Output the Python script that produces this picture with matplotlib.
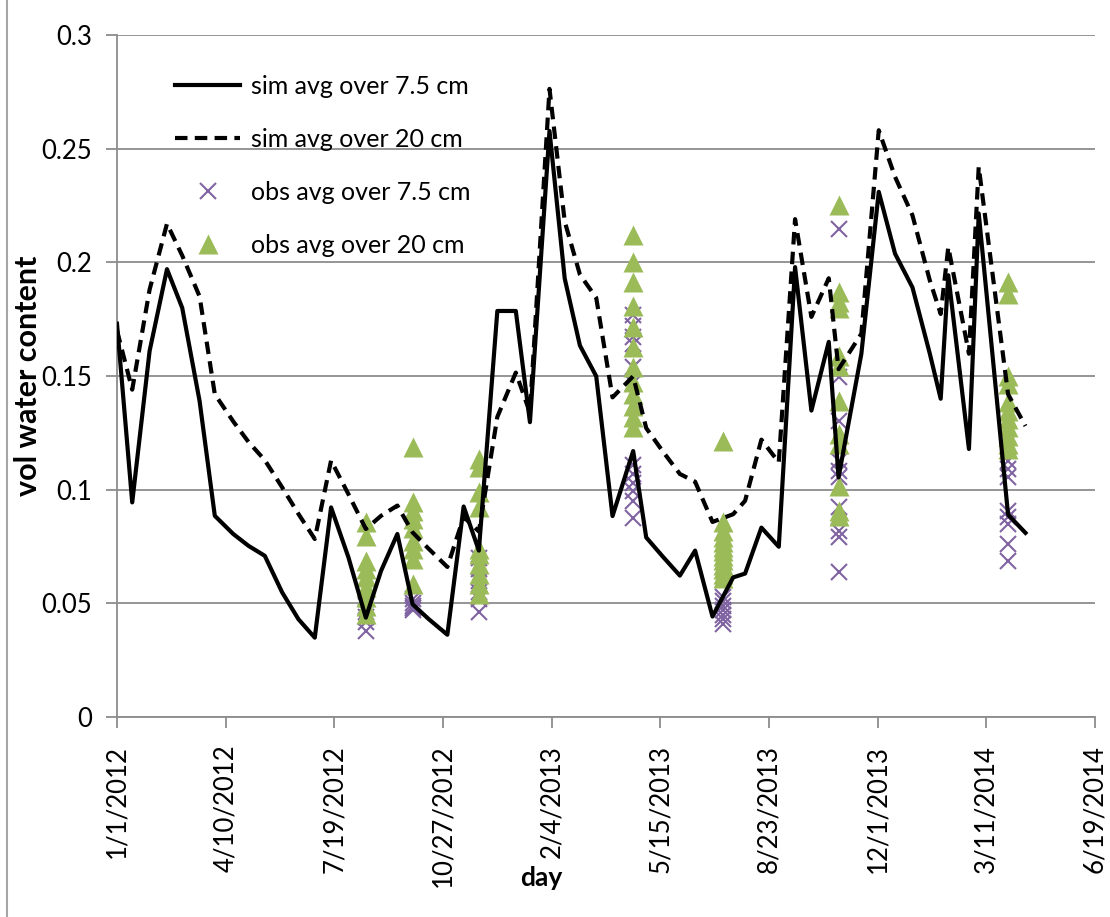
import numpy as np
import pandas as pd
import matplotlib
matplotlib.use("Agg")
import matplotlib.pyplot as plt
from matplotlib.lines import Line2D

plt.rcParams['font.family'] = ['Lato', 'DejaVu Sans']

# simulated water content
sim_dates = ['2012-01-01', '2012-01-15', '2012-01-31', '2012-02-16', '2012-03-01',
             '2012-03-17', '2012-03-31', '2012-04-17', '2012-05-01', '2012-05-16',
             '2012-06-01', '2012-06-16', '2012-07-01', '2012-07-16', '2012-08-01',
             '2012-08-17', '2012-08-31', '2012-09-15', '2012-09-29', '2012-10-14',
             '2012-10-31', '2012-11-15', '2012-11-29', '2012-12-16', '2013-01-02',
             '2013-01-15', '2013-02-02', '2013-02-16', '2013-03-02', '2013-03-17',
             '2013-04-01', '2013-04-20', '2013-05-02', '2013-05-17', '2013-06-02',
             '2013-06-16', '2013-07-02', '2013-07-21', '2013-08-01', '2013-08-16',
             '2013-09-01', '2013-09-16', '2013-10-01', '2013-10-17', '2013-10-26',
             '2013-11-16', '2013-12-02', '2013-12-17', '2014-01-02', '2014-01-18',
             '2014-01-28', '2014-02-04', '2014-02-23', '2014-03-04', '2014-03-31',
             '2014-04-16']
sim_75 = [0.173, 0.0944, 0.161, 0.197, 0.180,
          0.139, 0.0885, 0.0805, 0.0753, 0.0709,
          0.0548, 0.043, 0.0349, 0.0922, 0.0702,
          0.0437, 0.0643, 0.0805, 0.0496, 0.043,
          0.0362, 0.0926, 0.0732, 0.1786, 0.1786,
          0.1297, 0.2578, 0.1929, 0.1634, 0.1499,
          0.0884, 0.117, 0.079, 0.0707, 0.0622,
          0.0732, 0.0442, 0.0614, 0.0631, 0.0833,
          0.0749, 0.1979, 0.1348, 0.165, 0.1054,
          0.1598, 0.231, 0.2038, 0.189, 0.1598,
          0.140, 0.1943, 0.1179, 0.2215, 0.089,
          0.081]
sim_20 = [0.170, 0.144, 0.188, 0.217, 0.203,
          0.185, 0.142, 0.130, 0.121, 0.113,
          0.101, 0.0893, 0.0783, 0.1128, 0.098,
          0.0827, 0.0885, 0.093, 0.0812, 0.0739,
          0.066, 0.088, 0.0816, 0.132, 0.1515,
          0.1339, 0.2763, 0.218, 0.1946, 0.1844,
          0.1406, 0.1499, 0.1271, 0.117, 0.1069,
          0.1035, 0.0858, 0.0892, 0.0951, 0.122,
          0.112, 0.219, 0.176, 0.193, 0.153,
          0.1686, 0.2581, 0.2376, 0.2207, 0.192,
          0.1773, 0.2067, 0.1598, 0.242, 0.142,
          0.128]

# observed values, one list per sampling date
obs_dates = ['2012-08-17', '2012-09-29', '2012-11-29', '2013-04-20',
             '2013-07-12', '2013-10-26', '2014-03-31']
obs_75 = [[0.052, 0.049, 0.046, 0.044, 0.042, 0.038],
          [0.052, 0.050, 0.049, 0.048, 0.047],
          [0.070, 0.065, 0.060, 0.055, 0.052, 0.046],
          [0.177, 0.172, 0.167, 0.164, 0.154, 0.147, 0.111, 0.107, 0.103, 0.0995, 0.095, 0.0877],
          [0.053, 0.051, 0.049, 0.047, 0.045, 0.043, 0.041],
          [0.2148, 0.1495, 0.1304, 0.1128, 0.1084, 0.1054, 0.0922, 0.0819, 0.079, 0.0636],
          [0.1128, 0.1091, 0.1054, 0.0907, 0.0878, 0.0849, 0.0761, 0.0687]]
obs_20 = [[0.0856, 0.0797, 0.0687, 0.065, 0.0614, 0.057, 0.0526, 0.049, 0.0453],
          [0.1186, 0.0944, 0.0907, 0.087, 0.083, 0.0775, 0.074, 0.0696, 0.0586],
          [0.1135, 0.110, 0.0988, 0.0922, 0.0739, 0.0718, 0.0674, 0.063, 0.0586, 0.0542],
          [0.2119, 0.2001, 0.1913, 0.181, 0.1715, 0.1627, 0.1539, 0.1473, 0.1422, 0.137, 0.1319, 0.1275],
          [0.1213, 0.0856, 0.082, 0.079, 0.077, 0.075, 0.073, 0.071, 0.069, 0.067, 0.065, 0.063, 0.061],
          [0.2251, 0.1869, 0.1825, 0.1797, 0.159, 0.1546, 0.1392, 0.1245, 0.1201, 0.1018, 0.0907, 0.0885],
          [0.1913, 0.1862, 0.1502, 0.1465, 0.1385, 0.1348, 0.1311, 0.1274, 0.1238, 0.1201, 0.118]]

x_ticks = pd.date_range('2012-01-01', '2014-06-19', freq='100D')
y_ticks = [0, 0.05, 0.1, 0.15, 0.2, 0.25, 0.3]
y_ticklabels = ['0', '0.05', '0.1', '0.15', '0.2', '0.25', '0.3']

grey = '#8c8c8c'
purple = '#8064A2'
green = '#9BBB59'

fig = plt.figure(figsize=(11.1, 9.17), dpi=100)
ax = fig.add_axes([117/1110, 1 - 717/917, 978/1110, 682/917])

# observations first so the lines sit on top
ox, oy = [], []
for d, vals in zip(obs_dates, obs_75):
    ox += [pd.Timestamp(d)]*len(vals)
    oy += vals
tx, ty = [], []
for d, vals in zip(obs_dates, obs_20):
    tx += [pd.Timestamp(d)]*len(vals)
    ty += vals
h3, = ax.plot(ox, oy, ls='none', marker='x', ms=12, mew=1.5, color=purple, zorder=3)
h4, = ax.plot(tx, ty, ls='none', marker='^', ms=15, mec='none', color=green, zorder=3)

sd = pd.to_datetime(sim_dates)
h1, = ax.plot(sd, sim_75, color='black', lw=3, zorder=4)
h2, = ax.plot(sd, sim_20, color='black', lw=3, ls=(0, (3, 1.75)), zorder=4)

ax.set_xlim(x_ticks[0], x_ticks[-1])
ax.set_ylim(0, 0.3)
ax.set_xticks(x_ticks)
ax.set_xticklabels([f"{d.month}/{d.day}/{d.year}" for d in x_ticks], rotation=90)
ax.set_yticks(y_ticks)
ax.set_yticklabels(y_ticklabels)

ax.yaxis.grid(True, color=grey, lw=1.3)
ax.set_axisbelow(True)
for s in ['top', 'right']:
    ax.spines[s].set_visible(False)
for s in ['left', 'bottom']:
    ax.spines[s].set_color(grey)
    ax.spines[s].set_linewidth(1.3)
ax.tick_params(axis='both', colors=grey, labelcolor='black', length=8, width=1.3)
ax.tick_params(axis='x', pad=12, labelsize=18.5)
ax.tick_params(axis='y', pad=10, labelsize=18.5)

ax.set_xlabel('day', fontsize=19, fontweight='bold')
ax.xaxis.set_label_coords((541-117)/978, (717-866)/682)
ax.set_ylabel('vol water content', fontsize=22, fontweight='bold')
ax.yaxis.set_label_coords((42-117)/978, 0.5)

ax.legend([h1, h2, h3, h4],
          ['sim avg over 7.5 cm', 'sim avg over 20 cm', 'obs avg over 7.5 cm', 'obs avg over 20 cm'],
          loc='upper left', bbox_to_anchor=((175-117)/978, (717-75)/682),
          frameon=False, fontsize=18, handlelength=2.6, handletextpad=0.45,
          labelspacing=1.2, borderaxespad=0, borderpad=0)

# chart area border on the left
fig.add_artist(Line2D([7/1110, 7/1110], [0, 1], transform=fig.transFigure, color='#a6a6a6', lw=1.5))

fig.savefig('out.png', dpi=100)
